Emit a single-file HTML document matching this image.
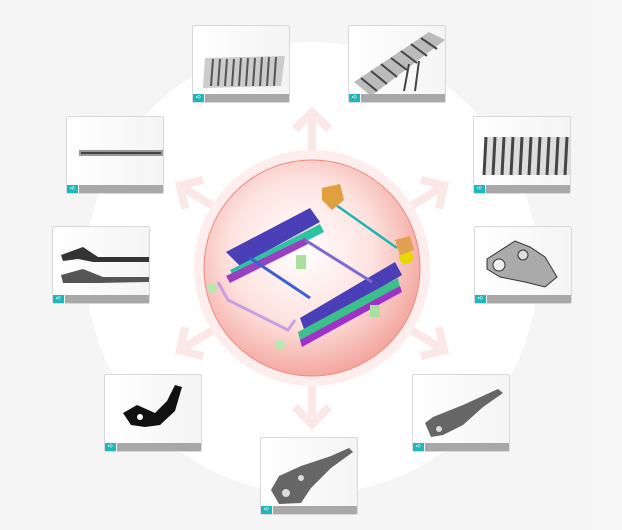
<!DOCTYPE html>
<html><head><meta charset="utf-8"><style>
html,body{margin:0;padding:0;width:622px;height:530px;overflow:hidden;background:#f5f5f5}
.c{position:absolute;width:98px;height:78px;background:linear-gradient(90deg,#fff,#f4f4f4);border:1px solid #d8d8dc;border-radius:2px;box-sizing:border-box;overflow:hidden}
.c .b{position:absolute;left:0;right:0;bottom:0;height:8px;background:#a8a8a8}
.c .i{position:absolute;left:0;bottom:0;width:11px;height:8px;background:#1db8bb;border-right:1px solid #fff;color:#fff;font:7px "Liberation Sans",sans-serif;line-height:8px;text-align:center}
.c svg{position:absolute;left:0;top:0}
</style></head><body>
<svg width="622" height="530" style="position:absolute;left:0;top:0">
<defs>
<radialGradient id="g" cx="0.45" cy="0.42" r="0.6">
<stop offset="0" stop-color="#fff"/><stop offset="0.55" stop-color="#fde3e0"/><stop offset="1" stop-color="#f3a49c"/>
</radialGradient>
</defs>
<rect x="588" y="0" width="34" height="530" fill="#f6f6f6"/>
<circle cx="312" cy="268" r="226" fill="#fff"/>
<g stroke="#fbe7e5" stroke-width="8" fill="none" stroke-linecap="butt">
<g transform="translate(312,268)">
<g id="a"><line x1="0" y1="-118" x2="0" y2="-155"/><polyline points="-17,-139 0,-156 17,-139"/></g>
<use href="#a" transform="rotate(58)"/><use href="#a" transform="rotate(122)"/><use href="#a" transform="rotate(180)"/>
<use href="#a" transform="rotate(238)"/><use href="#a" transform="rotate(302)"/>
</g></g>
<circle cx="312" cy="268" r="118" fill="#fdeeed"/>
<circle cx="312" cy="268" r="108" fill="url(#g)" stroke="#f08a80" stroke-width="1"/>
<g stroke-linejoin="round">
<polygon points="226,252 310,208 320,222 240,266" fill="#4b3fb8"/>
<polygon points="300,318 395,262 402,275 305,332" fill="#4b3fb8"/>
<polygon points="230,270 320,224 324,232 234,278" fill="#2ec3a0"/>
<polygon points="298,332 398,278 400,287 300,340" fill="#3bc08a"/>
<polygon points="226,276 305,238 308,244 230,283" fill="#9a3fc0"/>
<polygon points="300,340 400,286 402,292 302,347" fill="#a030c8"/>
<line x1="336" y1="205" x2="397" y2="248" stroke="#22b5b0" stroke-width="2.5"/>
<line x1="250" y1="258" x2="310" y2="298" stroke="#3e5fd0" stroke-width="3"/>
<line x1="305" y1="240" x2="372" y2="282" stroke="#7a6ad0" stroke-width="3"/>
<polyline points="218,282 228,300 288,330 295,320" fill="none" stroke="#c8a0e0" stroke-width="3"/>
<polygon points="322,188 340,184 344,200 332,210 322,200" fill="#e0a040"/>
<circle cx="406" cy="257" r="7" fill="#e6d800"/>
<polygon points="395,240 410,236 414,250 400,255" fill="#e0a050"/>
<rect x="296" y="255" width="10" height="14" fill="#a8e0a0"/>
<rect x="370" y="305" width="10" height="12" fill="#a8e0a0"/>
<circle cx="212" cy="288" r="5" fill="#b8e8b0"/>
<circle cx="280" cy="345" r="5" fill="#b8e8b0"/>
</g>
</svg>

<div class="c" style="left:192px;top:25px"><svg width="98" height="70"><g fill="#888">
<polygon points="12,32 92,30 88,60 10,62" fill="#ccc"/>
<g stroke="#555" stroke-width="2"><line x1="20" y1="33" x2="18" y2="60"/><line x1="27" y1="33" x2="25" y2="60"/><line x1="34" y1="33" x2="32" y2="60"/><line x1="41" y1="33" x2="39" y2="60"/><line x1="48" y1="32" x2="46" y2="60"/><line x1="55" y1="32" x2="53" y2="60"/><line x1="62" y1="32" x2="60" y2="60"/><line x1="69" y1="31" x2="67" y2="60"/><line x1="76" y1="31" x2="74" y2="60"/><line x1="83" y1="31" x2="81" y2="60"/></g></g></svg><div class="b"></div><div class="i">➪</div></div>

<div class="c" style="left:348px;top:25px"><svg width="98" height="70"><polygon points="5,56 80,6 96,14 22,70" fill="#bbb"/><g stroke="#444" stroke-width="2"><line x1="12" y1="52" x2="28" y2="65"/><line x1="22" y1="45" x2="38" y2="58"/><line x1="32" y1="38" x2="48" y2="51"/><line x1="42" y1="32" x2="58" y2="44"/><line x1="52" y1="25" x2="68" y2="37"/><line x1="62" y1="18" x2="78" y2="30"/><line x1="72" y1="12" x2="88" y2="23"/><line x1="60" y1="38" x2="55" y2="65"/><line x1="70" y1="35" x2="66" y2="65"/></g></svg><div class="b"></div><div class="i">➪</div></div>

<div class="c" style="left:66px;top:116px"><svg width="98" height="70"><rect x="12" y="33" width="84" height="6" fill="#999"/><rect x="14" y="35" width="80" height="2" fill="#444"/></svg><div class="b"></div><div class="i">➪</div></div>

<div class="c" style="left:473px;top:116px"><svg width="98" height="70"><rect x="10" y="20" width="88" height="38" fill="#ddd"/><g stroke="#444" stroke-width="3"><line x1="12" y1="20" x2="10" y2="58"/><line x1="21" y1="20" x2="19" y2="58"/><line x1="30" y1="20" x2="28" y2="58"/><line x1="39" y1="20" x2="37" y2="58"/><line x1="48" y1="20" x2="46" y2="58"/><line x1="57" y1="20" x2="55" y2="58"/><line x1="66" y1="20" x2="64" y2="58"/><line x1="75" y1="20" x2="73" y2="58"/><line x1="84" y1="20" x2="82" y2="58"/><line x1="93" y1="20" x2="91" y2="58"/></g></svg><div class="b"></div><div class="i">➪</div></div>

<div class="c" style="left:52px;top:226px"><svg width="98" height="70"><polygon points="8,28 30,20 45,30 96,30 96,35 40,35 25,32 10,34" fill="#333"/><polygon points="8,48 30,42 50,50 96,50 96,55 45,56 10,56" fill="#555"/></svg><div class="b"></div><div class="i">➪</div></div>

<div class="c" style="left:474px;top:226px"><svg width="98" height="70"><polygon points="12,32 40,14 55,20 70,30 82,50 70,60 50,55 25,50 12,42" fill="#aaa" stroke="#333"/><circle cx="24" cy="38" r="6" fill="#eee" stroke="#333"/><circle cx="48" cy="28" r="5" fill="#ddd" stroke="#333"/></svg><div class="b"></div><div class="i">➪</div></div>

<div class="c" style="left:104px;top:374px"><svg width="98" height="70"><polygon points="18,38 32,30 50,38 62,26 70,10 77,12 70,36 55,50 40,52 26,50" fill="#111"/><circle cx="35" cy="42" r="3" fill="#fff"/></svg><div class="b"></div><div class="i">➪</div></div>

<div class="c" style="left:412px;top:374px"><svg width="98" height="70"><polygon points="12,48 20,42 50,30 85,14 90,18 70,32 50,50 30,60 18,62" fill="#666"/><circle cx="26" cy="54" r="3" fill="#ddd"/></svg><div class="b"></div><div class="i">➪</div></div>

<div class="c" style="left:260px;top:437px"><svg width="98" height="70"><polygon points="10,52 18,38 40,28 70,18 88,10 92,14 70,30 50,50 40,65 18,66" fill="#666"/><circle cx="25" cy="55" r="4" fill="#ddd"/><circle cx="40" cy="40" r="3" fill="#ddd"/></svg><div class="b"></div><div class="i">➪</div></div>
</body></html>
